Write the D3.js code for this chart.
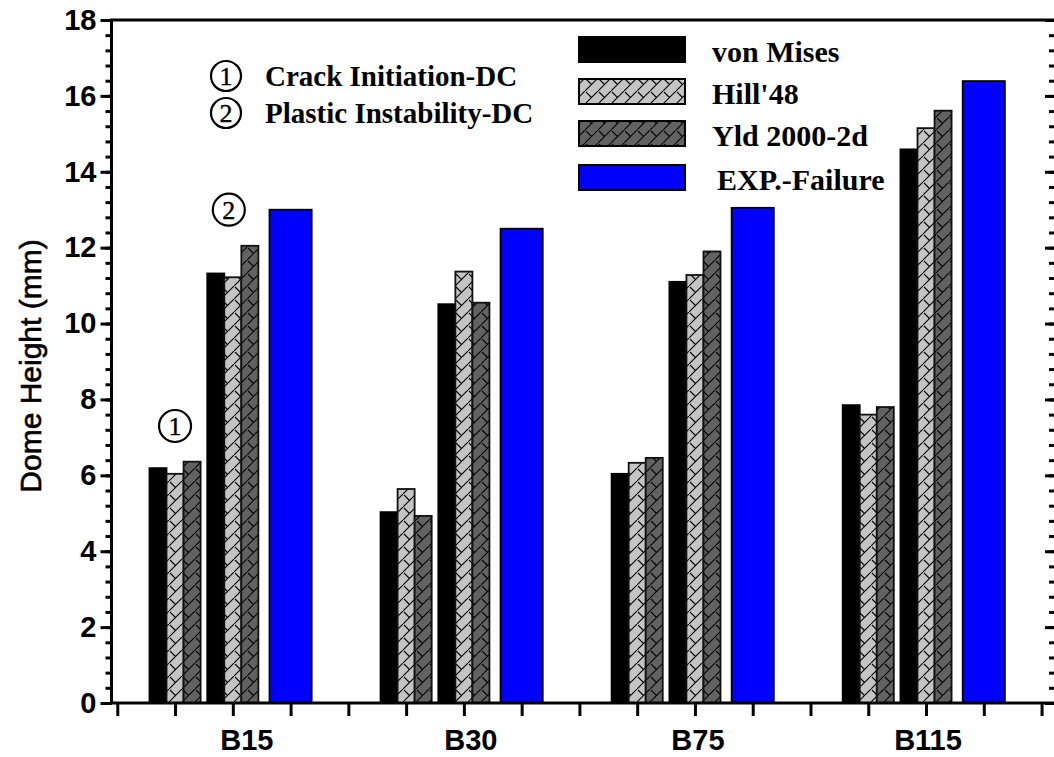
<!DOCTYPE html>
<html>
<head>
<meta charset="utf-8">
<script src="https://cdn.jsdelivr.net/npm/d3@7"></script>
<style>
  body { margin: 0; background: #fff; }
  svg { display: block; }
</style>
</head>
<body>
<svg id="chart" width="1054" height="757"></svg>
<script>
// ---- data (dome height, mm) ----
const categories = ["B15", "B30", "B75", "B115"];
const seriesNames = ["von Mises", "Hill'48", "Yld 2000-2d", "EXP.-Failure"];
// (1) crack initiation - damage criterion
const vonMisesCI = [6.19, 5.03, 6.04, 7.85];
const hill48CI   = [6.04, 5.64, 6.33, 7.60];
const yld2000CI  = [6.36, 4.93, 6.46, 7.80];
// (2) plastic instability - damage criterion
const vonMisesPI = [11.32, 10.51, 11.10, 14.59];
const hill48PI   = [11.22, 11.37, 11.28, 15.15];
const yld2000PI  = [12.05, 10.55, 11.90, 15.61];
// experiment
const expFailure = [13.00, 12.50, 13.05, 16.39];
const yTickValues = [0, 2, 4, 6, 8, 10, 12, 14, 16, 18];
const annotationNotes = ["Crack Initiation-DC", "Plastic Instability-DC"];

// ---- layout ----
const svg = d3.select("#chart");
const x = d3.scaleLinear().domain([-0.1, 16.25]).range([111.5, 1056]);
const y = d3.scaleLinear().domain([0, 18]).range([703, 20]);
const barW = 0.295;       // width of a simulated bar, in slot units
const expW = 0.73;        // width of the experiment bar
const labelNudge = [14, 7, 3, 2];

// ---- hatch patterns ----
const defs = svg.append("defs");
function hatch(id, bg) {
  const s = 13;
  const p = defs.append("pattern").attr("id", id)
    .attr("patternUnits", "userSpaceOnUse").attr("width", s).attr("height", s);
  p.append("rect").attr("width", s).attr("height", s).attr("fill", bg);
  p.append("path").attr("d", `M-1,${s + 1} L${s + 1},-1 M1,1 L6.5,6.5`)
    .attr("stroke", "#000").attr("stroke-width", 1.1).attr("fill", "none");
}
hatch("hatchLight", "#c4c4c4");
hatch("hatchDark", "#626262");

const styles = [
  { fill: "#000", stroke: "#000" },
  { fill: "url(#hatchLight)", stroke: "#111" },
  { fill: "url(#hatchDark)", stroke: "#111" },
  { fill: "#0000ff", stroke: "#000" }
];

// ---- bars ----
const bars = [];
const ci = [vonMisesCI, hill48CI, yld2000CI];
const pi = [vonMisesPI, hill48PI, yld2000PI];
categories.forEach((c, g) => {
  ci.forEach((arr, s) => bars.push({ u: 4 * g + 1 + (s - 1) * barW, w: barW, v: arr[g], s }));
  pi.forEach((arr, s) => bars.push({ u: 4 * g + 2 + (s - 1) * barW, w: barW, v: arr[g], s }));
  bars.push({ u: 4 * g + 3, w: expW, v: expFailure[g], s: 3 });
});

const xw = u => x(u) - x(0);
svg.append("g").selectAll("rect").data(bars).join("rect")
  .attr("x", d => x(d.u - d.w / 2))
  .attr("y", d => y(d.v))
  .attr("width", d => xw(d.w))
  .attr("height", d => y(0) - y(d.v))
  .attr("fill", d => styles[d.s].fill)
  .attr("stroke", d => styles[d.s].stroke)
  .attr("stroke-width", 1.8);

// ---- axes ----
const axisStyle = g => {
  g.selectAll(".domain").remove();
  g.selectAll("line").attr("stroke", "#000").attr("stroke-width", 3);
};
const minorY = d3.range(0, 18.01, 0.4).map(v => +v.toFixed(1));

// left axis
svg.append("g").attr("transform", `translate(${x.range()[0]},0)`)
  .call(d3.axisLeft(y).tickValues(minorY).tickSize(6).tickFormat(""))
  .call(axisStyle);
const yl = svg.append("g").attr("transform", `translate(${x.range()[0]},0)`)
  .call(d3.axisLeft(y).tickValues(yTickValues).tickSize(11).tickPadding(4).tickFormat(d3.format("d")))
  .call(axisStyle);
yl.selectAll("text")
  .attr("font-family", "Liberation Sans, Arial, sans-serif")
  .attr("font-weight", "bold").attr("font-size", 29).attr("fill", "#000");

// right axis (ticks pointing inward)
svg.append("g").attr("transform", `translate(${x.range()[1]},0)`)
  .call(d3.axisLeft(y).tickValues(minorY).tickSize(7).tickFormat(""))
  .call(axisStyle);
svg.append("g").attr("transform", `translate(${x.range()[1]},0)`)
  .call(d3.axisLeft(y).tickValues(yTickValues).tickSize(11).tickFormat(""))
  .call(axisStyle);

// bottom axis
svg.append("g").attr("transform", `translate(0,${y(0)})`)
  .call(d3.axisBottom(x).tickValues(d3.range(0, 17)).tickSize(13).tickFormat(""))
  .call(axisStyle);

svg.append("g").selectAll("text").data(categories).join("text")
  .attr("x", (d, i) => x(4 * i + 2) + labelNudge[i])
  .attr("y", 750)
  .attr("text-anchor", "middle")
  .attr("font-family", "Liberation Sans, Arial, sans-serif")
  .attr("font-weight", "bold").attr("font-size", 29)
  .text(d => d);

// frame
const [x0, x1] = x.range();
const [yb, yt] = y.range();
svg.append("path")
  .attr("d", `M${x0},${yb} L${x1},${yb} M${x0},${yb + 1.5} L${x0},${yt} L${x1},${yt}`)
  .attr("fill", "none").attr("stroke", "#000").attr("stroke-width", 3);

// y title
svg.append("text")
  .attr("transform", "translate(41,366) rotate(-90)")
  .attr("text-anchor", "middle")
  .attr("font-family", "Liberation Sans, Arial, sans-serif")
  .attr("font-size", 30).attr("stroke", "#000").attr("stroke-width", 0.6)
  .text("Dome Height (mm)");

// ---- circled markers ----
function circled(cx, cy, r, label) {
  const g = svg.append("g");
  g.append("circle").attr("cx", cx).attr("cy", cy).attr("r", r)
    .attr("fill", "#fff").attr("stroke", "#000").attr("stroke-width", 2.2);
  g.append("text").attr("x", cx).attr("y", cy).attr("dy", "0.35em")
    .attr("text-anchor", "middle")
    .attr("font-family", "Liberation Serif, Times New Roman, serif")
    .attr("font-size", 26).attr("stroke", "#000").attr("stroke-width", 0.4)
    .text(label);
}
circled(x(1), y(7.3), 16, "1");
circled(x(2) - 4, y(13), 16, "2");

annotationNotes.forEach((t, i) => {
  const cy = 76 + i * 37;
  circled(226, cy, 15, String(i + 1));
  svg.append("text").attr("x", 265).attr("y", cy + 10)
    .attr("font-family", "Liberation Serif, Times New Roman, serif")
    .attr("font-weight", "bold").attr("font-size", 29)
    .text(t);
});

// ---- legend ----
const legendRows = [37, 79, 121, 165];
const lg = svg.append("g");
seriesNames.forEach((name, i) => {
  lg.append("rect").attr("x", 579).attr("y", legendRows[i])
    .attr("width", 106).attr("height", 25)
    .attr("fill", styles[i].fill).attr("stroke", "#000").attr("stroke-width", 2);
  lg.append("text").attr("x", i === 3 ? 717 : 712).attr("y", legendRows[i] + 25)
    .attr("font-family", "Liberation Serif, Times New Roman, serif")
    .attr("font-weight", "bold").attr("font-size", 30)
    .text(name);
});
</script>
</body>
</html>
